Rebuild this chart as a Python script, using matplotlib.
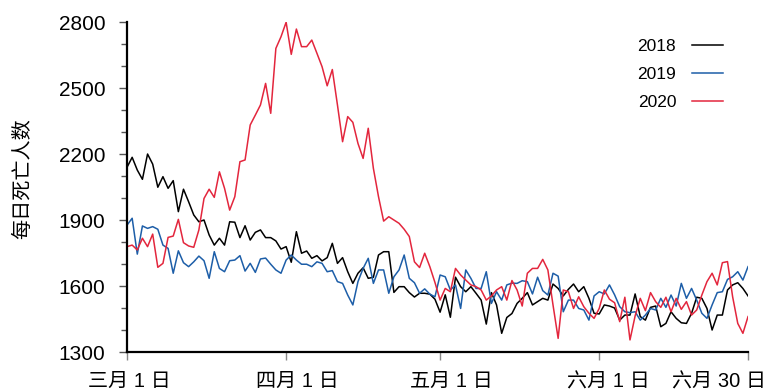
import matplotlib
matplotlib.use("Agg")
import matplotlib.pyplot as plt
from matplotlib.ticker import MultipleLocator
from matplotlib.transforms import ScaledTranslation
import numpy as np

plt.rcParams['font.family'] = ['Liberation Sans', 'Noto Sans CJK SC', 'DejaVu Sans']

# Daily deaths, 1 March - 30 June (day index 0..121)
deaths_2018 = [
    2140, 2185, 2127, 2085, 2200, 2154, 2049, 2097, 2044, 2079,
    1938, 2040, 1983, 1923, 1892, 1900, 1832, 1786, 1817, 1786,
    1892, 1890, 1820, 1874, 1809, 1844, 1855, 1820, 1820, 1805,
    1768, 1779, 1708, 1847, 1749, 1759, 1726, 1738, 1714, 1729,
    1794, 1703, 1729, 1665, 1612, 1658, 1683, 1635, 1640, 1741,
    1756, 1756, 1571, 1597, 1597, 1570, 1550, 1567, 1567, 1563,
    1540, 1481, 1560, 1458, 1640, 1597, 1574, 1597, 1567, 1536,
    1427, 1570, 1514, 1385, 1457, 1475, 1521, 1544, 1570, 1514,
    1529, 1544, 1536, 1609, 1589, 1555, 1585, 1609, 1574, 1597,
    1544, 1476, 1473, 1514, 1509, 1500, 1445, 1468, 1468, 1564,
    1461, 1445, 1503, 1509, 1415, 1430, 1483, 1453, 1433, 1430,
    1476, 1549, 1544, 1498, 1400, 1468, 1468, 1582, 1605, 1615,
    1589, 1555,
]

deaths_2019 = [
    1877, 1908, 1745, 1873, 1862, 1870, 1858, 1786, 1771, 1658,
    1760, 1706, 1688, 1710, 1736, 1715, 1635, 1756, 1680, 1665,
    1715, 1718, 1738, 1668, 1703, 1662, 1723, 1727, 1699, 1673,
    1658, 1718, 1741, 1718, 1699, 1699, 1688, 1710, 1703, 1665,
    1670, 1620, 1612, 1559, 1514, 1620, 1680, 1726, 1612, 1673,
    1673, 1567, 1642, 1673, 1741, 1635, 1615, 1567, 1587, 1563,
    1551, 1650, 1642, 1582, 1605, 1498, 1673, 1635, 1589, 1589,
    1665, 1521, 1574, 1536, 1605, 1613, 1612, 1624, 1620, 1564,
    1640, 1579, 1559, 1658, 1645, 1483, 1536, 1536, 1498, 1491,
    1445, 1555, 1574, 1564, 1605, 1560, 1506, 1483, 1479, 1483,
    1445, 1468, 1498, 1491, 1544, 1503, 1559, 1509, 1612, 1544,
    1589, 1536, 1476, 1453, 1514, 1570, 1574, 1630, 1642, 1665,
    1627, 1688,
]

deaths_2020 = [
    1779, 1786, 1764, 1817, 1779, 1836, 1685, 1703, 1821, 1827,
    1903, 1797, 1782, 1776, 1855, 1998, 2040, 2003, 2119, 2044,
    1945, 2006, 2165, 2173, 2332, 2377, 2423, 2521, 2385, 2680,
    2733, 2799, 2653, 2768, 2688, 2688, 2718, 2658, 2597, 2510,
    2584, 2423, 2256, 2370, 2344, 2248, 2180, 2317, 2135, 2006,
    1895, 1915, 1900, 1885, 1858, 1825, 1710, 1684, 1749, 1688,
    1616, 1536, 1589, 1574, 1680, 1650, 1627, 1605, 1597, 1582,
    1536, 1555, 1582, 1597, 1536, 1625, 1582, 1509, 1658, 1680,
    1680, 1721, 1673, 1514, 1362, 1582, 1574, 1498, 1551, 1506,
    1476, 1453, 1498, 1582, 1540, 1524, 1438, 1549, 1355, 1464,
    1544, 1488, 1570, 1529, 1503, 1549, 1483, 1544, 1494, 1529,
    1468, 1491, 1559, 1620, 1658, 1605, 1706, 1711, 1551, 1430,
    1385, 1461,
]

years = ["2018", "2019", "2020"]
colors = ["#000000", "#1d5ea8", "#e3263d"]

tick_days = [0, 31, 61, 92, 121]
tick_labels = ["三月 1 日", "四月 1 日", "五月 1 日", "六月 1 日", "六月 30 日"]
# horizontal nudges (pixels) applied to the month labels
label_nudge_px = [2, 11, 11, 9, -29]

fig = plt.figure(figsize=(7.68, 3.91), dpi=100)
ax = fig.add_axes([0.1654, 0.0997, 0.8086, 0.844])

days = np.arange(len(deaths_2018))
for label, series, color in zip(years, [deaths_2018, deaths_2019, deaths_2020], colors):
    ax.plot(days, series, color=color, lw=1.1, label=label)

ax.set_xlim(0, 121)
ax.set_ylim(1300, 2800)
ax.set_yticks([1300, 1600, 1900, 2200, 2500, 2800])
ax.yaxis.set_minor_locator(MultipleLocator(100))
ax.set_xticks(tick_days)
ax.set_xticklabels(tick_labels)

for side in ("top", "right"):
    ax.spines[side].set_visible(False)
for side in ("left", "bottom"):
    ax.spines[side].set_linewidth(1.6)
    ax.spines[side].set_color("#000000")

ax.tick_params(axis="y", which="major", length=6, width=1, color="#555555",
               labelsize=15, pad=9.5)
ax.tick_params(axis="y", which="minor", length=4, width=1, color="#555555")
ax.tick_params(axis="x", which="major", length=6, width=1, color="#888888",
               labelsize=14.5, pad=8.5)

for lbl, dx in zip(ax.get_xticklabels(), label_nudge_px):
    lbl.set_transform(lbl.get_transform() + ScaledTranslation(dx / 100, 0, fig.dpi_scale_trans))

ax.set_ylabel("每日死亡人数", fontsize=14.5)
ax.yaxis.set_label_coords(-0.153, 0.524)

leg = ax.legend(loc="upper right", bbox_to_anchor=(0.985, 0.995), frameon=False,
                markerfirst=False, fontsize=12.5, handlelength=1.8,
                handletextpad=0.9, labelspacing=0.72)

fig.savefig("out.png", dpi=100)
